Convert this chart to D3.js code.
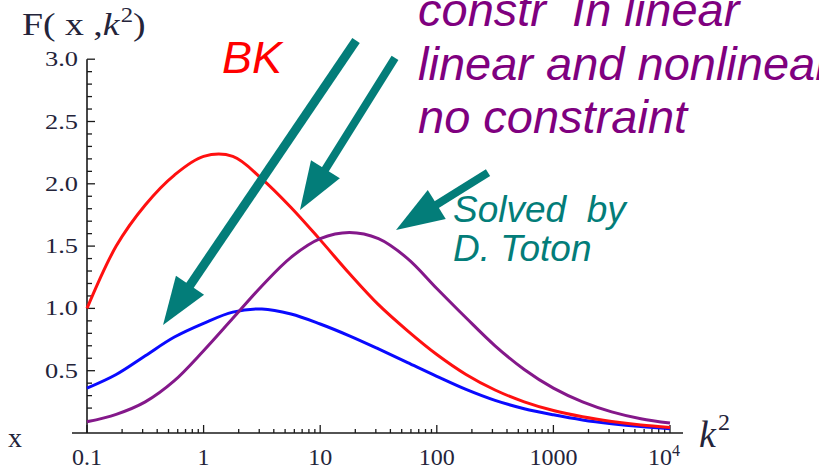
<!DOCTYPE html>
<html>
<head>
<meta charset="utf-8">
<script src="https://cdn.jsdelivr.net/npm/d3@7"></script>
<style>
  body { margin: 0; background: #fff; }
  svg { display: block; }
</style>
</head>
<body>
<div id="chart"></div>
<script>
// k^2 sample points (quarter decades on the log axis) and F(x,k^2)
var k2 = [0.1, 0.178, 0.316, 0.562, 1, 1.78, 3.16, 5.62, 10, 17.8, 31.6, 56.2,
          100, 178, 316, 562, 1000, 1778, 3162, 5623, 10000];

var bkValues = [1.00, 1.50, 1.83, 2.07, 2.22, 2.22, 2.04, 1.81, 1.55, 1.28, 1.03, 0.82,
                0.63, 0.47, 0.345, 0.25, 0.18, 0.13, 0.093, 0.065, 0.045];

var linearValues = [0.36, 0.47, 0.62, 0.77, 0.88, 0.97, 0.995, 0.955, 0.875, 0.78, 0.675, 0.565,
                    0.455, 0.35, 0.262, 0.195, 0.146, 0.105, 0.075, 0.052, 0.035];

var totonValues = [0.09, 0.15, 0.25, 0.42, 0.66, 0.92, 1.18, 1.41, 1.56, 1.61, 1.56, 1.40,
                   1.16, 0.925, 0.70, 0.51, 0.36, 0.25, 0.17, 0.115, 0.08];

var xMajor = [0.1, 1, 10, 100, 1000, 10000];
var xMajorLabels = ["0.1", "1", "10", "100", "1000", "10"];
var yMajor = [0.5, 1.0, 1.5, 2.0, 2.5, 3.0];
var yMajorLabels = ["0.5", "1.0", "1.5", "2.0", "2.5", "3.0"];

// arrows: tail and tip in data units (k^2, F)
var arrowTails = [[20.3, 3.15], [43.8, 3.01], [275, 2.09]];
var arrowTips = [[0.449, 0.867], [6.71, 1.79], [44.7, 1.63]];

var width = 819, height = 469;

var svg = d3.select("#chart").append("svg")
  .attr("width", width)
  .attr("height", height);

var x = d3.scaleLog().domain([0.1, 10000]).range([87, 670]);
var y = d3.scaleLinear().domain([0, 3]).range([433, 59.2]);

var serif = "'Liberation Serif', 'DejaVu Serif', serif";
var sans = "'Liberation Sans', Arial, sans-serif";
var labelColor = "#24243a";

// axes lines
svg.append("line")
  .attr("x1", 72).attr("x2", 683)
  .attr("y1", y(0)).attr("y2", y(0))
  .attr("stroke", "#1a1a1a").attr("stroke-width", 1.6);
svg.append("line")
  .attr("x1", x(0.1)).attr("x2", x(0.1))
  .attr("y1", y(0)).attr("y2", y(3))
  .attr("stroke", "#1a1a1a").attr("stroke-width", 1.6);

// x ticks (pointing up, inside)
var xMinor = x.ticks().filter(function(d) { return xMajor.indexOf(d) < 0; });
svg.append("g").selectAll("line")
  .data(xMinor).enter().append("line")
  .attr("x1", function(d) { return x(d); })
  .attr("x2", function(d) { return x(d); })
  .attr("y1", y(0)).attr("y2", y(0) - 4)
  .attr("stroke", "#1a1a1a").attr("stroke-width", 1.3);
svg.append("g").selectAll("line")
  .data(xMajor).enter().append("line")
  .attr("x1", function(d) { return x(d); })
  .attr("x2", function(d) { return x(d); })
  .attr("y1", y(0)).attr("y2", y(0) - 8)
  .attr("stroke", "#1a1a1a").attr("stroke-width", 1.3);

var xl = svg.append("g").selectAll("text")
  .data(xMajor).enter().append("text")
  .attr("x", function(d, i) { return i == xMajor.length - 1 ? x(d) - 6 : x(d); })
  .attr("y", 465)
  .attr("text-anchor", "middle")
  .attr("font-family", serif)
  .attr("font-size", 24)
  .attr("fill", labelColor)
  .text(function(d, i) { return xMajorLabels[i]; });
xl.filter(function(d, i) { return i == xMajor.length - 1; })
  .append("tspan")
  .attr("font-size", 16)
  .attr("dy", -9)
  .text("4");

// y ticks (pointing right, inside)
var yMinor = d3.range(1, 31).map(function(d) { return d / 10; })
  .filter(function(d) { return Math.abs(d * 2 - Math.round(d * 2)) > 1e-6; });
svg.append("g").selectAll("line")
  .data(yMinor).enter().append("line")
  .attr("x1", x(0.1)).attr("x2", x(0.1) + 5)
  .attr("y1", function(d) { return y(d); })
  .attr("y2", function(d) { return y(d); })
  .attr("stroke", "#1a1a1a").attr("stroke-width", 1.3);
svg.append("g").selectAll("line")
  .data(yMajor).enter().append("line")
  .attr("x1", x(0.1)).attr("x2", x(0.1) + 8)
  .attr("y1", function(d) { return y(d); })
  .attr("y2", function(d) { return y(d); })
  .attr("stroke", "#1a1a1a").attr("stroke-width", 1.3);
svg.append("g").selectAll("text")
  .data(yMajor).enter().append("text")
  .attr("x", 78)
  .attr("y", function(d) { return y(d) + 7; })
  .attr("text-anchor", "end")
  .attr("font-family", serif)
  .attr("font-size", 22)
  .attr("fill", labelColor)
  .attr("textLength", 33)
  .attr("lengthAdjust", "spacingAndGlyphs")
  .text(function(d, i) { return yMajorLabels[i]; });

// axis titles
var ft = svg.append("text")
  .attr("transform", "translate(22,35) scale(1.18,1)")
  .attr("font-family", serif)
  .attr("font-size", 32)
  .attr("fill", labelColor);
ft.append("tspan").text("F( x ,");
ft.append("tspan").attr("font-style", "italic").text("k");
ft.append("tspan").attr("font-size", 21).attr("dy", -13).attr("dx", 1).text("2");
ft.append("tspan").attr("dy", 13).text(")");

svg.append("text")
  .attr("x", 8).attr("y", 447)
  .attr("font-family", serif)
  .attr("font-size", 28)
  .attr("fill", labelColor)
  .text("x");

var kt = svg.append("text")
  .attr("x", 699).attr("y", 447)
  .attr("font-family", serif)
  .attr("font-size", 38)
  .attr("fill", labelColor);
kt.append("tspan").attr("font-style", "italic").text("k");
kt.append("tspan").attr("font-size", 24).attr("dy", -17).attr("dx", 2).text("2");

// curves
var line = d3.line()
  .x(function(d) { return x(d[0]); })
  .y(function(d) { return y(d[1]); })
  .curve(d3.curveCatmullRom.alpha(0.5));

var series = [
  { values: linearValues, color: "#0a0aff" },
  { values: bkValues, color: "#ff1010" },
  { values: totonValues, color: "#84188a" }
];
series.forEach(function(s) {
  svg.append("path")
    .datum(d3.zip(k2, s.values))
    .attr("fill", "none")
    .attr("stroke", s.color)
    .attr("stroke-width", 3)
    .attr("stroke-linejoin", "round")
    .attr("d", line);
});

// arrows
var teal = "#037d79";
var shaftWidths = [9, 8, 8];
arrowTails.forEach(function(t, i) {
  var x0 = x(t[0]), y0 = y(t[1]);
  var x1 = x(arrowTips[i][0]), y1 = y(arrowTips[i][1]);
  var dx = x1 - x0, dy = y1 - y0, len = Math.sqrt(dx * dx + dy * dy);
  var ux = dx / len, uy = dy / len;
  var headLen = 48, headHalf = 17;
  var bx = x1 - ux * headLen, by = y1 - uy * headLen;
  svg.append("line")
    .attr("x1", x0).attr("y1", y0)
    .attr("x2", bx + ux * 2).attr("y2", by + uy * 2)
    .attr("stroke", teal)
    .attr("stroke-width", shaftWidths[i]);
  svg.append("path")
    .attr("d", "M" + x1 + "," + y1 +
      "L" + (bx - uy * headHalf) + "," + (by + ux * headHalf) +
      "L" + (bx + uy * headHalf) + "," + (by - ux * headHalf) + "Z")
    .attr("fill", teal);
});

// annotations
svg.append("text")
  .attr("x", 222).attr("y", 73)
  .attr("font-family", sans).attr("font-style", "italic")
  .attr("font-size", 45)
  .attr("fill", "#ff0000")
  .text("BK");

var purpleLines = ["constr  In linear", "linear and nonlinear", "no constraint"];
svg.append("g").selectAll("text")
  .data(purpleLines).enter().append("text")
  .attr("x", 418)
  .attr("y", function(d, i) { return 26 + i * 53.5; })
  .attr("font-family", sans).attr("font-style", "italic")
  .attr("font-size", 47)
  .attr("fill", "#7f007f")
  .style("white-space", "pre")
  .text(function(d) { return d; });

var tealLines = ["Solved  by", "D. Toton"];
svg.append("g").selectAll("text")
  .data(tealLines).enter().append("text")
  .attr("x", 453)
  .attr("y", function(d, i) { return 222 + i * 39; })
  .attr("font-family", sans).attr("font-style", "italic")
  .attr("font-size", 37)
  .attr("fill", teal)
  .style("white-space", "pre")
  .text(function(d) { return d; });
</script>
</body>
</html>
